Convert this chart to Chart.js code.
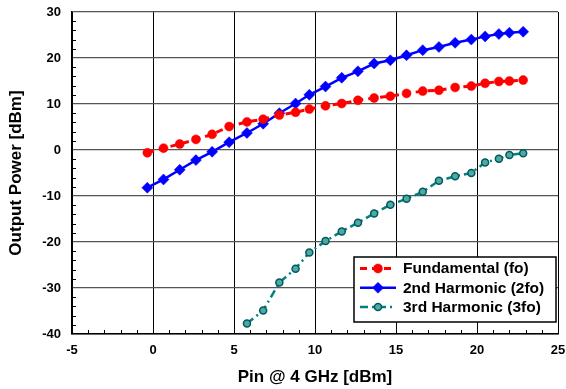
<!DOCTYPE html>
<html>

<head>
    <script src="https://cdn.jsdelivr.net/npm/chart.js@4.4.0/dist/chart.umd.min.js"></script>
    <style>
        body { margin: 0; background: #fff; }
        #wrap { width: 566px; height: 389px; }
    </style>
</head>

<body>
    <div id="wrap"><canvas id="myChart" width="566" height="389"></canvas></div>

    <script>
        // input power (x) for every measured point
        var pinValues = [-0.35, 0.65, 1.65, 2.65, 3.65, 4.7, 5.8, 6.8, 7.8, 8.8, 9.65, 10.65, 11.65,
            12.65, 13.65, 14.65, 15.65, 16.65, 17.65, 18.65, 19.65, 20.5, 21.35, 22.0, 22.85];
        var fundamental = [-0.6, 0.4, 1.3, 2.3, 3.4, 5.1, 6.1, 6.7, 7.6, 8.2, 8.9, 9.6, 10.1,
            10.8, 11.3, 11.7, 12.3, 12.8, 13.0, 13.6, 13.9, 14.5, 14.9, 15.0, 15.2];
        var harmonic2 = [-8.2, -6.4, -4.3, -2.2, -0.4, 1.7, 3.7, 5.7, 8.0, 10.1, 12.0, 13.8, 15.7,
            17.1, 18.8, 19.5, 20.6, 21.7, 22.4, 23.3, 24.0, 24.7, 25.2, 25.5, 25.7];
        // 3rd harmonic only measured from ~6 dBm upward
        var harmonic3 = [null, null, null, null, null, null, -37.7, -34.9, -28.8, -25.8, -22.3, -19.8, -17.7,
            -15.8, -13.8, -11.9, -10.6, -9.1, -6.7, -5.7, -5.0, -2.7, -1.9, -1.1, -0.7];
        var seriesNames = ["Fundamental (fo)", "2nd Harmonic (2fo)", "3rd Harmonic (3fo)"];

        var xMin = -5, xMax = 25, xStep = 5;
        var yMin = -40, yMax = 30, yStep = 10;

        function toPoints(vals) {
            var pts = [];
            for (let i in pinValues) {
                pts.push({ x: pinValues[i], y: vals[i] });
            }
            return pts;
        }

        var FONT = "'Liberation Sans', Arial, sans-serif";

        // small inward ticks between the labelled ones
        var minorTicks = {
            id: "minorTicks",
            afterDatasetsDraw(chart) {
                const ctx = chart.ctx, xs = chart.scales.x, ys = chart.scales.y;
                const area = chart.chartArea;
                ctx.save();
                ctx.strokeStyle = "#000";
                ctx.lineWidth = 1;
                ctx.beginPath();
                for (let v = xMin; v <= xMax; v++) {
                    if (v % xStep == 0) continue;
                    let px = Math.round(xs.getPixelForValue(v)) + 0.5;
                    ctx.moveTo(px, area.bottom);
                    ctx.lineTo(px, area.bottom - 4);
                }
                for (let v = yMin; v <= yMax; v += 2) {
                    if (v % yStep == 0) continue;
                    let py = Math.round(ys.getPixelForValue(v)) + 0.5;
                    ctx.moveTo(area.left, py);
                    ctx.lineTo(area.left + 4, py);
                }
                ctx.stroke();
                ctx.restore();
            }
        };

        // boxed legend in the lower right of the plot
        var boxLegend = {
            id: "boxLegend",
            afterDraw(chart) {
                const ctx = chart.ctx;
                const bx = 354, by = 257, bw = 202, bh = 65;
                ctx.save();
                ctx.fillStyle = "#fff";
                ctx.fillRect(bx, by, bw, bh);
                ctx.strokeStyle = "#000";
                ctx.lineWidth = 1.5;
                ctx.strokeRect(bx, by, bw, bh);
                chart.data.datasets.forEach(function (ds, i) {
                    let cy = by + 11.5 + i * 19.3;
                    ctx.strokeStyle = ds.borderColor;
                    ctx.lineWidth = ds.borderWidth;
                    ctx.setLineDash(ds.borderDash || []);
                    ctx.beginPath();
                    ctx.moveTo(360, cy);
                    ctx.lineTo(396, cy);
                    ctx.stroke();
                    ctx.setLineDash([]);
                    ctx.fillStyle = ds.pointBackgroundColor;
                    ctx.strokeStyle = ds.pointBorderColor;
                    ctx.lineWidth = ds.pointBorderWidth;
                    Chart.helpers.drawPoint(ctx, {
                        pointStyle: ds.pointStyle,
                        radius: ds.pointRadius,
                        borderWidth: ds.pointBorderWidth
                    }, 378, cy);
                    ctx.fillStyle = "#000";
                    ctx.font = "bold 15.5px " + FONT;
                    ctx.textBaseline = "middle";
                    ctx.fillText(ds.label, 403, cy + 0.5);
                });
                ctx.restore();
            }
        };

        new Chart("myChart", {
            type: "line",
            data: {
                datasets: [{
                    label: seriesNames[0],
                    data: toPoints(fundamental),
                    borderColor: "#ff0000",
                    borderWidth: 3,
                    borderDash: [7, 5],
                    pointStyle: "circle",
                    pointRadius: 4.5,
                    pointBackgroundColor: "#ff0000",
                    pointBorderColor: "#ff0000",
                    pointBorderWidth: 0.5,
                    tension: 0
                }, {
                    label: seriesNames[1],
                    data: toPoints(harmonic2),
                    borderColor: "#0000ff",
                    borderWidth: 2.5,
                    pointStyle: "rectRot",
                    pointRadius: 5.5,
                    pointBackgroundColor: "#0000ff",
                    pointBorderColor: "#0000ff",
                    pointBorderWidth: 0.5,
                    tension: 0
                }, {
                    label: seriesNames[2],
                    data: toPoints(harmonic3),
                    borderColor: "#008080",
                    borderWidth: 2.5,
                    borderDash: [8, 4, 2, 4],
                    pointStyle: "circle",
                    pointRadius: 3.5,
                    pointBackgroundColor: "#4fa8a8",
                    pointBorderColor: "#005a5a",
                    pointBorderWidth: 1.5,
                    tension: 0
                }]
            },
            options: {
                responsive: false,
                animation: false,
                layout: { padding: { left: 4, right: 8, top: 12, bottom: 0 } },
                plugins: {
                    legend: { display: false },
                    tooltip: { enabled: false }
                },
                scales: {
                    x: {
                        type: "linear",
                        min: xMin, max: xMax,
                        afterFit: function (s) { s.height = 55; s.paddingLeft = 0; s.paddingRight = 0; },
                        ticks: {
                            stepSize: xStep,
                            color: "#000",
                            padding: 9,
                            font: { family: FONT, size: 13, weight: "bold" }
                        },
                        grid: { color: "#000", lineWidth: 1, drawTicks: false },
                        border: { color: "#000", width: 1.5 },
                        title: {
                            display: true,
                            text: "Pin @ 4 GHz [dBm]",
                            color: "#000",
                            padding: { top: 4, bottom: 1 },
                            font: { family: FONT, size: 17, weight: "bold" }
                        }
                    },
                    y: {
                        min: yMin, max: yMax,
                        afterFit: function (s) { s.width = 68; s.paddingTop = 0; s.paddingBottom = 0; },
                        ticks: {
                            stepSize: yStep,
                            color: "#000",
                            padding: 11,
                            font: { family: FONT, size: 13, weight: "bold" }
                        },
                        grid: { color: "#555", lineWidth: 1.2, drawTicks: false },
                        border: { color: "#000", width: 1.5 },
                        title: {
                            display: true,
                            text: "Output Power [dBm]",
                            color: "#000",
                            padding: { top: 2, bottom: 4 },
                            font: { family: FONT, size: 17, weight: "bold" }
                        }
                    }
                }
            },
            plugins: [minorTicks, boxLegend]
        });
    </script>
</body>

</html>
